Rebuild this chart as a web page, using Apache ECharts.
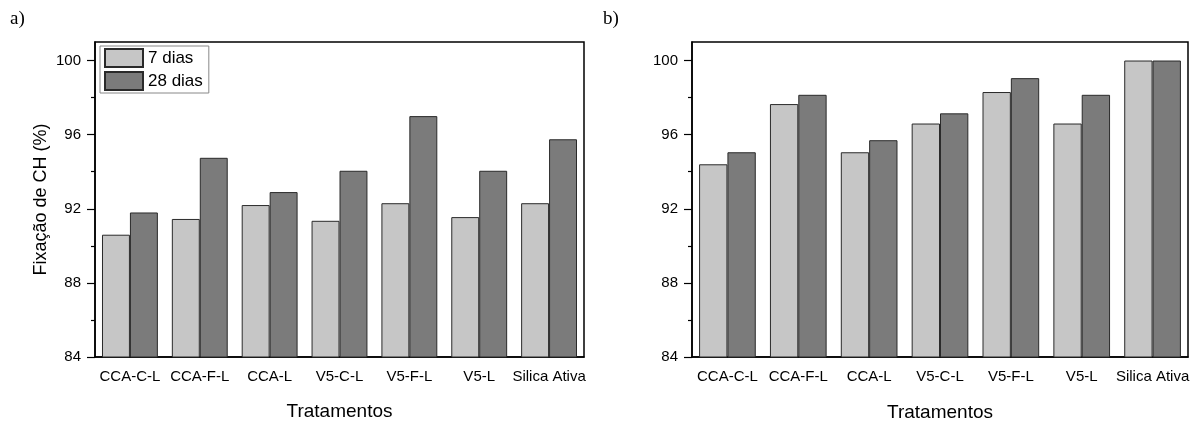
<!DOCTYPE html>
<html>
<head>
<meta charset="utf-8">
<script src="https://cdn.jsdelivr.net/npm/echarts@6/dist/echarts.min.js"></script>
<style>
  html, body { margin: 0; padding: 0; background: #ffffff; }
  #chart { width: 1192px; height: 421px; }
</style>
</head>
<body>
<div id="chart"></div>
<script>
// Treatments on the x axis
const categories = ['CCA-C-L', 'CCA-F-L', 'CCA-L', 'V5-C-L', 'V5-F-L', 'V5-L', 'Silica Ativa'];

// Panel a) - CH fixation (%)
const panelA7 = [90.6, 91.45, 92.2, 91.35, 92.3, 91.55, 92.3];
const panelA28 = [91.8, 94.75, 92.9, 94.05, 97.0, 94.05, 95.75];

// Panel b) - CH fixation (%)
const panelB7 = [94.4, 97.65, 95.05, 96.6, 98.3, 96.6, 100];
const panelB28 = [95.05, 98.15, 95.7, 97.15, 99.05, 98.15, 100];

// Value-axis ticks
const majorTicks = [84, 88, 92, 96, 100];
const minorTicks = [86, 90, 94, 98];

const seriesNames = ['7 dias', '28 dias'];
const lightColor = '#c6c6c6';
const darkColor = '#7b7b7b';
const sans = 'Arial, "Liberation Sans", sans-serif';
const serif = '"Times New Roman", "Liberation Serif", serif';

const grids = [
  { left: 95, width: 489, top: 42, bottom: 64 },
  { left: 692, width: 496, top: 42, bottom: 64 }
];

function xAxesFor(gridIndex, nameGap) {
  return [
    {
      type: 'category', gridIndex, data: categories,
      axisLine: { lineStyle: { color: '#000', width: 1.5 } },
      axisTick: { alignWithLabel: true, length: 8, lineStyle: { color: '#000', width: 1.2 } },
      axisLabel: { interval: 0, color: '#000', fontFamily: sans, fontSize: 15, margin: 12 },
      name: 'Tratamentos',
      nameLocation: 'middle', nameGap,
      nameTextStyle: { color: '#000', fontFamily: sans, fontSize: 19 }
    },
    {
      type: 'category', gridIndex, data: categories, position: 'bottom',
      axisLine: { show: false },
      axisTick: { interval: 0, length: 4, lineStyle: { color: '#000', width: 1.2 } },
      axisLabel: { show: false }
    }
  ];
}

function yAxesFor(gridIndex, name) {
  return [
    {
      type: 'value', gridIndex, min: 84, max: 101,
      splitLine: { show: false },
      axisLine: { show: true, lineStyle: { color: '#000', width: 1.5 } },
      axisTick: { show: true, customValues: majorTicks, length: 8, lineStyle: { color: '#000', width: 1.2 } },
      axisLabel: { customValues: majorTicks, color: '#000', fontFamily: sans, fontSize: 15, margin: 14 },
      name, nameLocation: 'middle', nameGap: 45, nameRotate: 90,
      nameTextStyle: { color: '#000', fontFamily: sans, fontSize: 18 }
    },
    {
      type: 'value', gridIndex, min: 84, max: 101, position: 'left',
      splitLine: { show: false },
      axisLine: { show: false },
      axisTick: { show: true, customValues: minorTicks, length: 4, lineStyle: { color: '#000', width: 1.2 } },
      axisLabel: { show: false }
    }
  ];
}

function barSeries(name, data, color, xAxisIndex, yAxisIndex) {
  return {
    type: 'bar', name, data, xAxisIndex, yAxisIndex,
    barGap: '0%', barCategoryGap: '20%',
    itemStyle: { color, borderColor: '#2a2a2a', borderWidth: 1 },
    emphasis: { disabled: true },
    animation: false
  };
}

const chart = echarts.init(document.getElementById('chart'), null, { renderer: 'canvas' });
chart.setOption({
  backgroundColor: '#ffffff',
  animation: false,
  grid: grids.map(g => Object.assign({
    show: true, borderColor: '#000', borderWidth: 1.5, backgroundColor: 'transparent',
    containLabel: false, outerBoundsMode: 'none'
  }, g)),
  xAxis: [...xAxesFor(0, 45), ...xAxesFor(1, 46)],
  yAxis: [...yAxesFor(0, 'Fixação de CH (%)'), ...yAxesFor(1, '')],
  legend: {
    data: seriesNames,
    icon: 'rect',
    orient: 'vertical', left: 100, top: 46,
    itemWidth: 38, itemHeight: 18, itemGap: 3,
    padding: [2, 6, 2, 4],
    borderColor: '#888', borderWidth: 1, backgroundColor: '#fff',
    textStyle: { color: '#000', fontFamily: sans, fontSize: 17 },
    selectedMode: false
  },
  graphic: [
    { type: 'text', left: 10, top: 10, style: { text: 'a)', font: '19px ' + serif, fill: '#000' } },
    { type: 'text', left: 603, top: 10, style: { text: 'b)', font: '19px ' + serif, fill: '#000' } }
  ],
  series: [
    barSeries(seriesNames[0], panelA7, lightColor, 0, 0),
    barSeries(seriesNames[1], panelA28, darkColor, 0, 0),
    barSeries(seriesNames[0], panelB7, lightColor, 2, 2),
    barSeries(seriesNames[1], panelB28, darkColor, 2, 2)
  ]
});
</script>
</body>
</html>
